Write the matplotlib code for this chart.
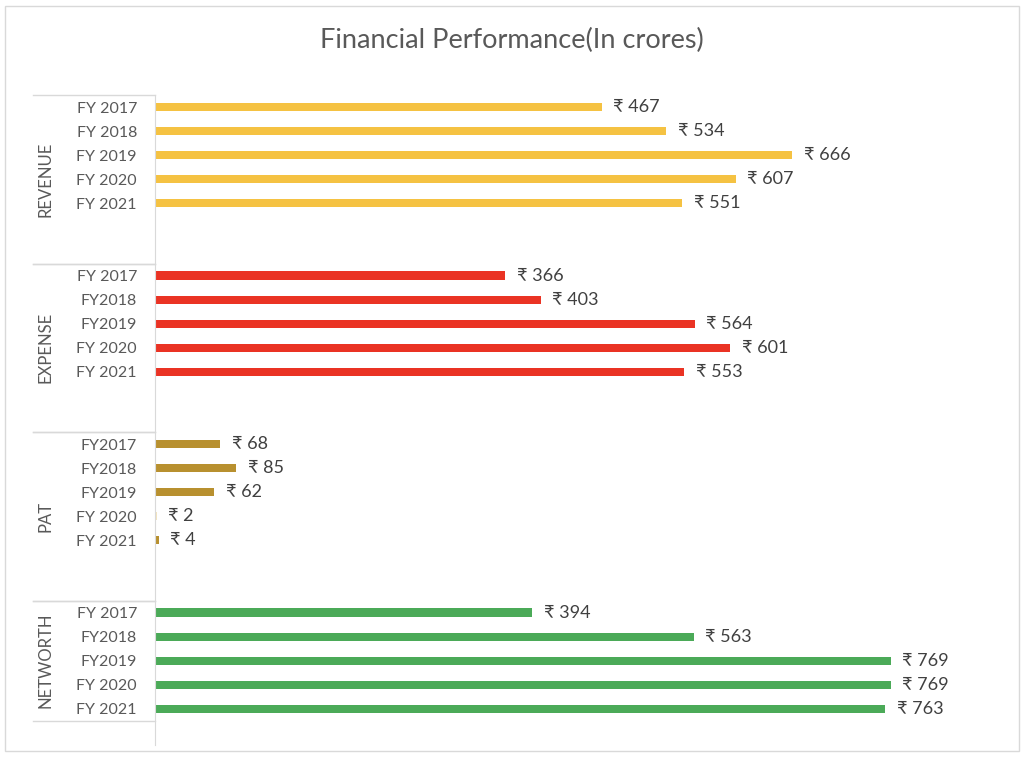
import matplotlib

matplotlib.use("Agg")
import matplotlib.pyplot as plt  # noqa: E402
from matplotlib.patches import Rectangle  # noqa: E402
from matplotlib.transforms import blended_transform_factory  # noqa: E402

plt.rcParams["font.family"] = ["Lato", "Noto Sans", "DejaVu Sans"]

# ---- data ----
groups = ["REVENUE", "EXPENSE", "PAT", "NETWORTH"]
revenue_labels = ["FY 2017", "FY 2018", "FY 2019", "FY 2020", "FY 2021"]
revenue = [467, 534, 666, 607, 551]
expense_labels = ["FY 2017", "FY2018", "FY2019", "FY 2020", "FY 2021"]
expense = [366, 403, 564, 601, 553]
pat_labels = ["FY2017", "FY2018", "FY2019", "FY 2020", "FY 2021"]
pat = [68, 85, 62, 2, 4]
networth_labels = ["FY 2017", "FY2018", "FY2019", "FY 2020", "FY 2021"]
networth = [394, 563, 769, 769, 763]

colors = ["#F5C242", "#EA3324", "#B8902F", "#4BAA58"]
pat_light = "#F3E4BF"  # the FY 2020 PAT bar is almost invisible

series = [(revenue_labels, revenue), (expense_labels, expense),
          (pat_labels, pat), (networth_labels, networth)]

W, H = 1024, 757
fig = plt.figure(figsize=(W / 100, H / 100), dpi=100)

# outer chart border
fig.add_artist(Rectangle((5 / W, 1 - 751 / H), 1014 / W, 745 / H,
                         transform=fig.transFigure, fill=False,
                         edgecolor="#D9D9D9", lw=1.0))

ax_left, ax_top, ax_bottom = 155, 95, 745
ax_right = 1000
ax = fig.add_axes([ax_left / W, 1 - ax_bottom / H,
                   (ax_right - ax_left) / W, (ax_bottom - ax_top) / H])

xmax = (ax_right - ax_left) / 0.957
n_slots = 27
ypos, ylabels = [], []
group_bounds = []
slot = 0
for gi, (labs, vals) in enumerate(series):
    start = slot
    for lab, v in zip(labs, vals):
        y = slot + 0.5
        c = colors[gi]
        if gi == 2 and v < 3:
            c = pat_light
        ax.barh(y, v, height=0.34, color=c)
        ax.text(v + 12, y, f"\u20b9 {v}", va="center", ha="left",
                fontsize=13, color="#404040")
        ypos.append(y)
        ylabels.append(lab)
        slot += 1
    if gi < 3:
        slot += 2  # two empty category rows after each group
    group_bounds.append((start, slot))

ax.set_xlim(0, xmax)
ax.set_ylim(n_slots, 0)
ax.set_yticks(ypos)
ax.set_yticklabels(ylabels, fontsize=11.5, color="#595959")
ax.tick_params(axis="y", length=0, pad=13)
ax.set_xticks([])
for s in ("top", "right", "bottom"):
    ax.spines[s].set_visible(False)
ax.spines["left"].set_color("#D9D9D9")

# group separators and rotated group labels on the category axis
tr = blended_transform_factory(ax.transAxes, ax.transData)
x_line = (33 - ax_left) / (ax_right - ax_left)
x_lab = (45 - ax_left) / (ax_right - ax_left)
for gi, (start, end) in enumerate(group_bounds):
    for yb in (start, end):
        ax.plot([x_line, 0], [yb, yb], transform=tr, color="#D9D9D9",
                lw=1.0, clip_on=False)
    ax.text(x_lab, (start + end) / 2, groups[gi],
            transform=tr, rotation=90, ha="center", va="center",
            fontsize=12, color="#595959")

fig.text(512 / W, 1 - 40 / H, "Financial Performance(In crores)",
         ha="center", va="center", fontsize=19.5, color="#595959")

fig.savefig("out.png", dpi=100)
